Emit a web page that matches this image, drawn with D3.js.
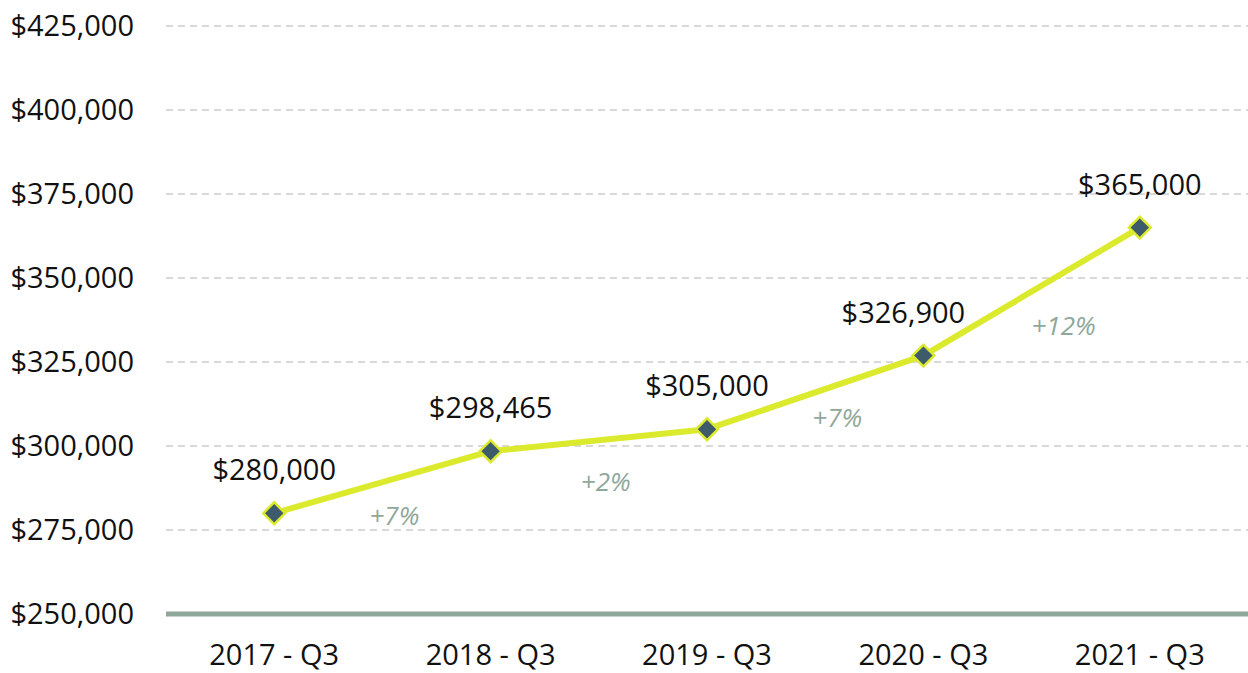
<!DOCTYPE html>
<html>
<head>
<meta charset="utf-8">
<script src="https://cdn.jsdelivr.net/npm/d3@7"></script>
<style>
  body { margin: 0; background: #fff; }
  svg { font-family: "Open Sans", sans-serif; display: block; }
</style>
</head>
<body>
<div id="chart"></div>
<script>
const quarters = ["2017 - Q3", "2018 - Q3", "2019 - Q3", "2020 - Q3", "2021 - Q3"];
const prices = [280000, 298465, 305000, 326900, 365000];
const changes = ["+7%", "+2%", "+7%", "+12%"];
const yTicks = [250000, 275000, 300000, 325000, 350000, 375000, 400000, 425000];

const width = 1248, height = 673;
const margin = { top: 26, right: 0, bottom: 59, left: 166 };

// small label nudges so annotations sit clear of the line
const valueNudge = [0, 0, 0, -20, 0];
const changeNudge = [[-4, 0], [-9, 8], [6, -8], [16, 0]];

const svg = d3.select("#chart")
    .append("svg")
    .attr("width", width)
    .attr("height", height);

const x = d3.scaleBand()
    .domain(quarters)
    .range([margin.left, width - margin.right]);

const y = d3.scaleLinear()
    .domain([250000, 425000])
    .range([height - margin.bottom, margin.top]);

const fmt = d3.format("$,");

// grid lines
svg.append("g")
    .selectAll("line")
    .data(yTicks.slice(1))
    .join("line")
    .attr("x1", margin.left)
    .attr("x2", width - margin.right)
    .attr("y1", d => y(d))
    .attr("y2", d => y(d))
    .attr("stroke", "#d9d9d9")
    .attr("stroke-width", 2)
    .attr("stroke-dasharray", "7,5");

// y axis labels
svg.append("g")
    .selectAll("text")
    .data(yTicks)
    .join("text")
    .attr("x", 134)
    .attr("y", d => y(d))
    .attr("dy", "0.35em")
    .attr("text-anchor", "end")
    .attr("font-size", 29)
    .attr("fill", "#111")
    .text(d => fmt(d));

// baseline
svg.append("line")
    .attr("x1", margin.left)
    .attr("x2", width - margin.right)
    .attr("y1", y(250000))
    .attr("y2", y(250000))
    .attr("stroke", "#8fa89a")
    .attr("stroke-width", 5);

// x axis labels
svg.append("g")
    .selectAll("text")
    .data(quarters)
    .join("text")
    .attr("x", d => x(d) + x.bandwidth() / 2)
    .attr("y", 665)
    .attr("text-anchor", "middle")
    .attr("font-size", 29)
    .attr("fill", "#111")
    .text(d => d);

const cx = (d, i) => x(quarters[i]) + x.bandwidth() / 2;

// line
svg.append("path")
    .datum(prices)
    .attr("d", d3.line().x(cx).y(d => y(d)))
    .attr("fill", "none")
    .attr("stroke", "#dcea2e")
    .attr("stroke-width", 6)
    .attr("stroke-linejoin", "round");

// markers
svg.append("g")
    .selectAll("path")
    .data(prices)
    .join("path")
    .attr("transform", (d, i) => `translate(${cx(d, i)},${y(d)}) rotate(45)`)
    .attr("d", d3.symbol(d3.symbolSquare, 240)())
    .attr("fill", "#3d5b6b")
    .attr("stroke", "#dcea2e")
    .attr("stroke-width", 2.5);

// value labels
svg.append("g")
    .selectAll("text")
    .data(prices)
    .join("text")
    .attr("x", (d, i) => cx(d, i) + valueNudge[i])
    .attr("y", d => y(d) - 33)
    .attr("text-anchor", "middle")
    .attr("font-size", 29)
    .attr("fill", "#111")
    .text(d => fmt(d));

// percentage change labels
svg.append("g")
    .selectAll("text")
    .data(changes)
    .join("text")
    .attr("x", (d, i) => (cx(0, i) + cx(0, i + 1)) / 2 + 16 + changeNudge[i][0])
    .attr("y", (d, i) => y((prices[i] + prices[i + 1]) / 2) + 43 + changeNudge[i][1])
    .attr("text-anchor", "middle")
    .attr("font-size", 26)
    .attr("font-style", "italic")
    .attr("fill", "#8fa89a")
    .text(d => d);
</script>
</body>
</html>
